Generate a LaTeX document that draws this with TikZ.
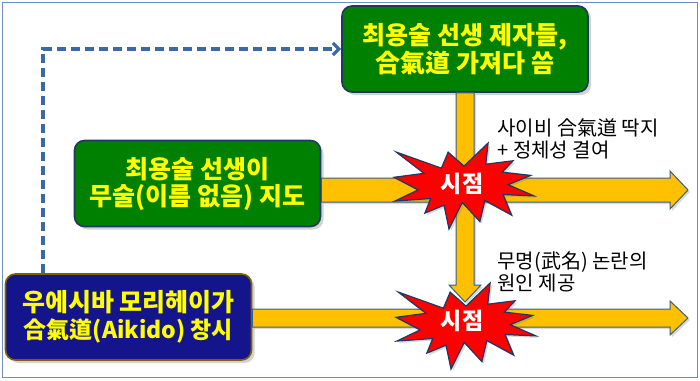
\documentclass[tikz,border=0pt]{standalone}
\usepackage{fontspec}
\setmainfont{Noto Sans CJK KR}
\usetikzlibrary{calc,shadows,arrows.meta}

\definecolor{boxgreen}{RGB}{0,128,0}
\definecolor{boxline}{RGB}{31,56,100}
\definecolor{foundfill}{RGB}{20,20,140}
\definecolor{foundline}{RGB}{127,96,0}
\definecolor{boxtext}{RGB}{255,255,0}
\definecolor{arrowfill}{RGB}{255,192,0}
\definecolor{arrowline}{RGB}{56,93,138}
\definecolor{burstred}{RGB}{255,0,0}
\definecolor{dashblue}{RGB}{58,104,168}
\definecolor{framecol}{RGB}{110,140,190}

\tikzset{
    box/.style={draw=boxline,line width=1.6pt,rounded corners=10pt,
        minimum width=246pt,minimum height=86pt,align=center,text=boxtext,
        font=\fontsize{25}{27}\selectfont\bfseries,
        drop shadow={shadow xshift=3pt,shadow yshift=-3pt,opacity=0.35}},
    blockarrow/.style={fill=arrowfill,draw=arrowline,line width=1pt,
        drop shadow={shadow xshift=2pt,shadow yshift=-2pt,opacity=0.3}},
    dashline/.style={draw=dashblue,line width=3.2pt,dash pattern=on 9pt off 5pt,
        -{Straight Barb[length=6pt,width=12pt]}},
    note/.style={anchor=west,align=left,font=\fontsize{20}{22}\selectfont},
    hit/.style={text=white,font=\fontsize{23}{25}\selectfont\bfseries},
    % explosion shape, centred on the pic origin
    burst/.pic={
        \draw[fill=burstred,draw=boxline,line width=1.2pt,x=140pt,y=-86pt,
            drop shadow={shadow xshift=2pt,shadow yshift=-2pt,opacity=0.3}]
            (0,-0.2315) -- (0.1723,-0.5) -- (0.1553,-0.2535) -- (0.3509,-0.2937)
            -- (0.2732,-0.1613) -- (0.4767,-0.1233) -- (0.3151,-0.0150)
            -- (0.5,0.1153) -- (0.2795,0.0992) -- (0.3400,0.3377)
            -- (0.1491,0.1693) -- (0.1133,0.4138) -- (-0.0124,0.1914)
            -- (-0.1072,0.5) -- (-0.1428,0.2235) -- (-0.2795,0.3156)
            -- (-0.2376,0.1452) -- (-0.4938,0.1753) -- (-0.3277,0.0451)
            -- (-0.5,-0.1012) -- (-0.2858,-0.1474) -- (-0.4829,-0.3938)
            -- (-0.1615,-0.2074) -- (-0.1133,-0.3938) -- cycle;
    }
}

\begin{document}
\begin{tikzpicture}[x=1pt,y=-1pt]
    \useasboundingbox (0,0) rectangle (700,380);
    \draw[framecol,line width=1pt] (2,2) rectangle (697,377);

    % boxes
    \node[box,fill=boxgreen] (pupils) at (465,49) {최용술 선생 제자들,\\合氣道 가져다 씀};
    \node[box,fill=boxgreen] (choi) at (197.5,183.5) {최용술 선생이\\무술(이름 없음) 지도};
    \node[box,fill=foundfill,draw=foundline] (founder) at (128.5,317)
        {우에시바 모리헤이가\\{\fontsize{23}{27}\selectfont 合氣道(Aikido) 창시}};

    % dashed link
    \coordinate (corner) at (43,47);
    \draw[dashline] (founder.north -| corner) |- (pupils.west);

    % horizontal arrows
    \coordinate (tipA) at (688,190);
    \coordinate (tipB) at (688,318);
    \coordinate (tipV) at (465,302);
    \draw[blockarrow] ($(choi.east |- tipA)+(0,-12)$) -- ($(tipA)+(-18,-12)$)
        -- ($(tipA)+(-18,-19)$) -- (tipA) -- ($(tipA)+(-18,19)$)
        -- ($(tipA)+(-18,12)$) -- ($(choi.east |- tipA)+(0,12)$) -- cycle;
    \draw[blockarrow] ($(founder.east |- tipB)+(0,-9)$) -- ($(tipB)+(-18,-9)$)
        -- ($(tipB)+(-18,-17)$) -- (tipB) -- ($(tipB)+(-18,17)$)
        -- ($(tipB)+(-18,9)$) -- ($(founder.east |- tipB)+(0,9)$) -- cycle;

    \pic at (466,326) {burst};

    % vertical arrow
    \draw[blockarrow] ($(pupils.south)+(-9,0)$) -- ($(tipV)+(-9,-17)$)
        -- ($(tipV)+(-16,-17)$) -- (tipV) -- ($(tipV)+(16,-17)$)
        -- ($(tipV)+(9,-17)$) -- ($(pupils.south)+(9,0)$) -- cycle;

    \pic at (464,186) {burst};

    \node[hit] (hit1) at (462,184) {시점};
    \node[hit] (hit2) at (462,321) {시점};

    \node[note] (note1) at (494,139) {사이비 合氣道 딱지\\+ 정체성 결여};
    \node[note] (note2) at (494,272) {무명(武名) 논란의\\원인 제공};
\end{tikzpicture}
\end{document}
